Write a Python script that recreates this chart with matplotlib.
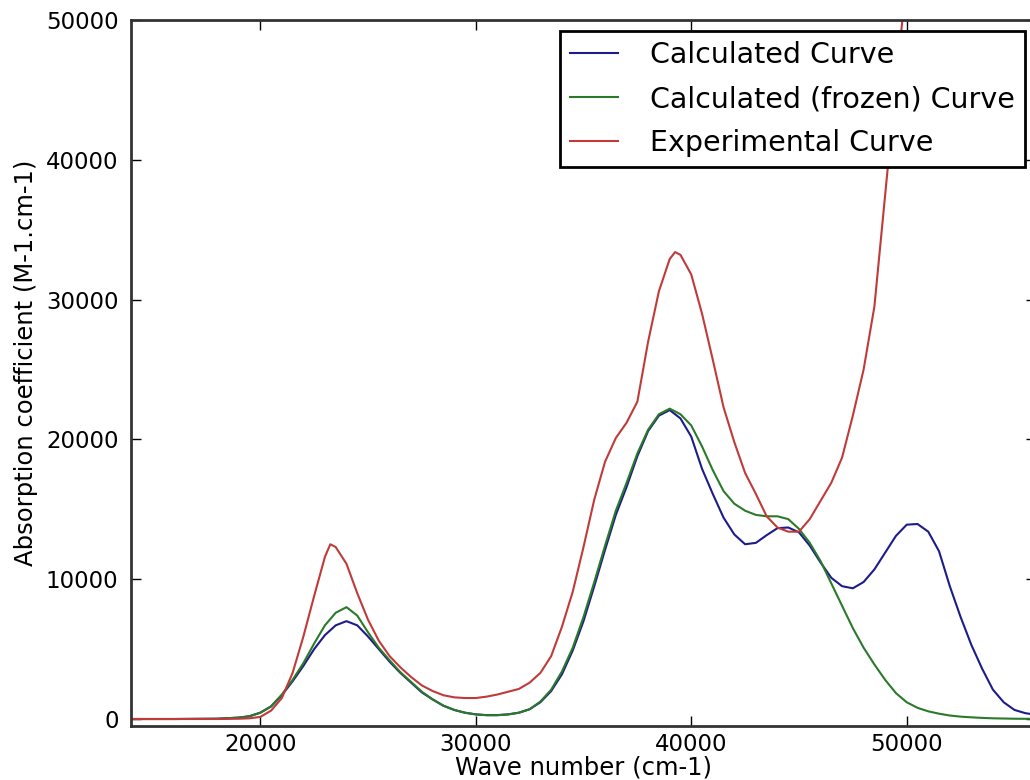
import matplotlib
matplotlib.use("Agg")
import matplotlib.pyplot as plt

# Wave numbers (cm-1)
wave = [14000, 16000, 18000, 19000, 19500, 20000, 20500, 21000, 21500, 22000,
        22500, 23000, 23500, 24000, 24500, 25000, 25500, 26000, 26500, 27000,
        27500, 28000, 28500, 29000, 29500, 30000, 30500, 31000, 31500, 32000,
        32500, 33000, 33500, 34000, 34500, 35000, 35500, 36000, 36500, 37000,
        37500, 38000, 38500, 39000, 39500, 40000, 40500, 41000, 41500, 42000,
        42500, 43000, 43500, 44000, 44500, 45000, 45500, 46000, 46500, 47000,
        47500, 48000, 48500, 49000, 49500, 50000, 50500, 51000, 51500, 52000,
        52500, 53000, 53500, 54000, 54500, 55000, 55500, 56000]

calculated = [0, 0, 20, 100, 200, 450, 900, 1700, 2700, 3800,
              5000, 6000, 6700, 7000, 6700, 5900, 5000, 4100, 3300, 2600,
              1900, 1400, 950, 650, 450, 330, 280, 280, 330, 450,
              700, 1200, 2000, 3200, 4900, 7000, 9500, 12100, 14600, 16600,
              18800, 20600, 21700, 22100, 21500, 20200, 17900, 16100, 14400, 13200,
              12500, 12600, 13150, 13650, 13700, 13350, 12400, 11200, 10100, 9500,
              9350, 9800, 10700, 11900, 13100, 13900, 13950, 13400, 12000, 9500,
              7300, 5300, 3600, 2100, 1200, 650, 420, 300]

frozen = [0, 0, 20, 100, 200, 450, 900, 1750, 2800, 4000,
          5400, 6700, 7600, 8000, 7400, 6200, 5100, 4200, 3350, 2650,
          1950, 1400, 950, 650, 450, 330, 270, 270, 330, 450,
          700, 1250, 2100, 3400, 5100, 7300, 9800, 12400, 14900, 16900,
          19000, 20700, 21800, 22200, 21800, 21000, 19500, 17800, 16300, 15400,
          14900, 14600, 14500, 14500, 14300, 13600, 12600, 11300, 9700, 8100,
          6500, 5100, 3900, 2800, 1850, 1200, 800, 550, 380, 250,
          170, 120, 80, 50, 35, 20, 15, 10]

wave_exp = [14000, 16000, 18000, 19000, 19500, 20000, 20500, 21000, 21500, 22000,
            22500, 23000, 23250, 23500, 24000, 24500, 25000, 25500, 26000, 26500,
            27000, 27500, 28000, 28500, 29000, 29500, 30000, 30500, 31000, 31500,
            32000, 32500, 33000, 33500, 34000, 34500, 35000, 35500, 36000, 36500,
            37000, 37500, 38000, 38500, 39000, 39250, 39500, 40000, 40500, 41000,
            41500, 42000, 42500, 43000, 43500, 44000, 44500, 45000, 45500, 46000,
            46500, 47000, 47500, 48000, 48500, 49000, 49500, 50000]

experimental = [0, 0, 0, 20, 50, 150, 600, 1500, 3300, 5900,
                8800, 11600, 12500, 12300, 11100, 9000, 7100, 5600, 4500, 3700,
                3000, 2400, 2000, 1700, 1550, 1500, 1500, 1600, 1750, 1950,
                2150, 2600, 3300, 4500, 6600, 9100, 12300, 15700, 18400, 20100,
                21200, 22700, 27000, 30600, 32900, 33400, 33200, 31800, 29000, 25700,
                22300, 19800, 17600, 16100, 14500, 13700, 13400, 13400, 14300, 15600,
                16900, 18700, 21700, 25000, 29500, 37500, 45500, 53000]

labels = ["Calculated Curve", "Calculated (frozen) Curve", "Experimental Curve"]
colors = ["#1c1c8a", "#2a7a2a", "#c03a3a"]

W, H = 1030, 780
fig = plt.figure(figsize=(W / 100, H / 100), dpi=100)
left, right, top, bottom = 131, 1036, 20, 726
ax = fig.add_axes([left / W, 1 - bottom / H, (right - left) / W, (bottom - top) / H])

ax.plot(wave, calculated, color=colors[0], lw=1.5, label=labels[0])
ax.plot(wave, frozen, color=colors[1], lw=1.5, label=labels[1])
ax.plot(wave_exp, experimental, color=colors[2], lw=1.5, label=labels[2])

ax.set_xlim(14000, 56000)
ax.set_ylim(-500, 50000)
ax.set_xticks([20000, 30000, 40000, 50000])
ax.set_yticks([0, 10000, 20000, 30000, 40000, 50000])
ax.tick_params(direction="in", top=True, right=True, length=7, width=1, labelsize=16.5)
ax.tick_params(axis="y", pad=9)
ax.tick_params(axis="x", pad=5)
for s in ax.spines.values():
    s.set_linewidth(2)
    s.set_color("#333333")

ax.set_xlabel("Wave number (cm-1)", fontsize=17.5, labelpad=0)
ax.set_ylabel("Absorption coefficient (M-1.cm-1)", fontsize=17.5)
ax.yaxis.set_label_coords(-0.103, 0.515)

leg = ax.legend(loc="upper right", fontsize=20.5, fancybox=False, framealpha=1,
                edgecolor="black", handlelength=1.7, handletextpad=1.1,
                labelspacing=0.55, borderpad=0.35, borderaxespad=0.4)
leg.get_frame().set_linewidth(2)

fig.savefig("out.png", dpi=100)
